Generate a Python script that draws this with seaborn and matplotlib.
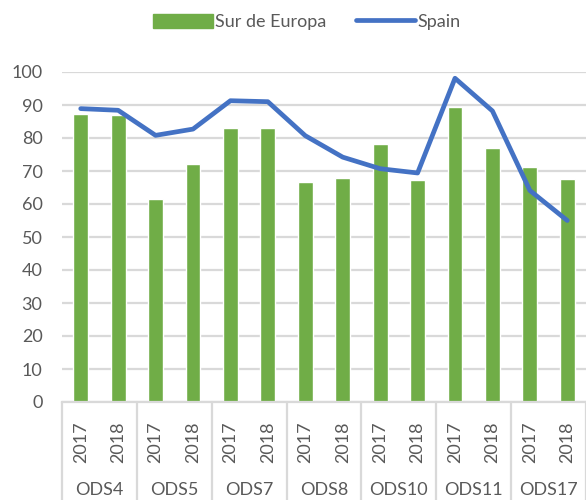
import numpy as np
import pandas as pd
import matplotlib
matplotlib.use("Agg")
import matplotlib.pyplot as plt
import seaborn as sns
from matplotlib.patches import Patch
from matplotlib.lines import Line2D

groups = ["ODS4", "ODS5", "ODS7", "ODS8", "ODS10", "ODS11", "ODS17"]
years = ["2017", "2018"]
sur_europa = [87.4, 86.9, 61.5, 72.2, 83.1, 83.1, 66.8, 68.0, 78.3, 67.2, 89.5, 77.0, 71.2, 67.6]
spain = [88.9, 88.4, 80.8, 82.7, 91.3, 91.0, 80.7, 74.2, 70.7, 69.4, 98.1, 88.2, 64.1, 55.0]
y_ticks = [0, 10, 20, 30, 40, 50, 60, 70, 80, 90, 100]

rows = []
for gi, g in enumerate(groups):
    for yi, y in enumerate(years):
        k = gi * len(years) + yi
        rows.append({"key": f"{g}-{y}", "group": g, "year": y,
                     "sur": sur_europa[k], "spain": spain[k], "pos": k})
df = pd.DataFrame(rows)

sns.set_style("white")
plt.rcParams["font.family"] = ["Lato", "DejaVu Sans"]

GREEN = "#70AD47"
BLUE = "#4472C4"
TXT = "#595959"
GRID = "#D9D9D9"

fig = plt.figure(figsize=(5.86, 5.00), dpi=100)
ax = fig.add_axes([62 / 586, 1 - 402 / 500, 1 - 62 / 586, (402 - 72) / 500])

sns.barplot(data=df, x="key", y="sur", color=GREEN, width=0.4, saturation=1,
            ax=ax, zorder=2)
sns.lineplot(data=df, x="pos", y="spain", color=BLUE, linewidth=3.4, ax=ax,
             zorder=3, solid_capstyle="round", solid_joinstyle="round")

n = len(df)
ax.set_xlim(-0.5, n - 0.5)
ax.set_ylim(0, 100)
ax.set_yticks(y_ticks)
ax.set_yticklabels([str(v) for v in y_ticks], fontsize=13, color=TXT)
ax.tick_params(axis="y", length=0, pad=14)
ax.yaxis.grid(True, color=GRID, linewidth=1.6, zorder=0)
ax.set_axisbelow(True)
for s in ["top", "right", "left"]:
    ax.spines[s].set_visible(False)
ax.spines["bottom"].set_color(GRID)
ax.spines["bottom"].set_linewidth(1.6)

ax.set_xticks(df["pos"])
ax.set_xticklabels(df["year"], rotation=90, fontsize=13, color=TXT)
ax.tick_params(axis="x", length=0, pad=14)
ax.set_xlabel("")
ax.set_ylabel("")

trans = ax.get_xaxis_transform()
ng = len(groups)
ny = len(years)
for gi in range(ng + 1):
    xs = gi * ny - 0.5
    ax.add_line(Line2D([xs, xs], [0, -0.32], transform=trans, color=GRID,
                       linewidth=1.6, clip_on=False))
for gi, g in enumerate(groups):
    xc = gi * ny + (ny - 1) / 2
    ax.text(xc, -0.268, g, transform=trans, ha="center", va="center",
            fontsize=13, color=TXT)

handles = [Patch(facecolor=GREEN, edgecolor=GREEN, label="Sur de Europa"),
           Line2D([0], [0], color=BLUE, linewidth=3.4, solid_capstyle="round",
                  label="Spain")]
leg = fig.legend(handles=handles, loc="center", bbox_to_anchor=(307 / 586, 1 - 22 / 500),
                 ncol=2, frameon=False, fontsize=13, handlelength=3.3,
                 handleheight=0.8, handletextpad=0.15, columnspacing=1.6)
for t in leg.get_texts():
    t.set_color(TXT)

fig.savefig("out.png", dpi=100)
